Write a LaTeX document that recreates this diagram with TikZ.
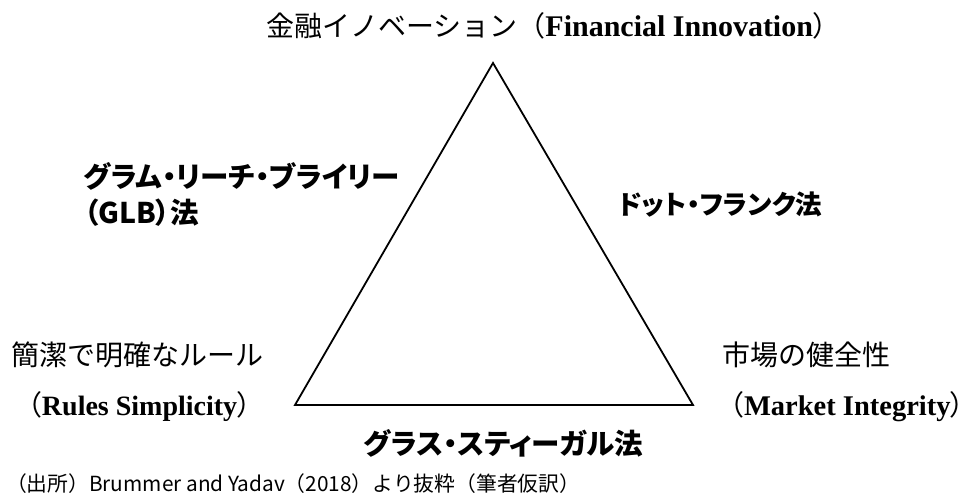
\documentclass[tikz,border=0pt]{standalone}
\usepackage{fontspec}
\setmainfont{Noto Sans CJK JP}
\newfontfamily\jpfont{Noto Sans CJK JP}
\newfontfamily\jpgfont[RawFeature=+palt]{Noto Sans CJK JP}
\newfontfamily\serbfont{Liberation Serif}
\begin{document}
\begin{tikzpicture}[x=1pt,y=-1pt,
  every node/.style={inner sep=0pt,outer sep=0pt},
  mintxt/.style={font=\jpfont\fontsize{28}{34}\selectfont},
  gotbtxt/.style={font=\jpgfont\bfseries\fontsize{28.5}{34}\selectfont},
  notetxt/.style={font=\jpfont\fontsize{20.8}{24}\selectfont},
  tri/.style={line width=1.8pt,line join=miter}]
\useasboundingbox (0,0) rectangle (980,500);
\coordinate (A) at (493,63);
\coordinate (B) at (295,405);
\coordinate (C) at (693,405);
\draw[tri] (A) -- (B) -- (C) -- cycle;
\newcommand{\latb}[2][29]{{\serbfont\bfseries\fontsize{#1}{34}\selectfont #2}}
\newcommand{\rpar}{{\jpgfont ）}}
\node[mintxt,anchor=base west] (top) at (266,37) {金融イノベーション（\latb[30]{Financial Innovation}\rpar};
\node[gotbtxt,anchor=base west] (glb1) at (84,187) {グラム・リーチ・ブライリー};
\node[gotbtxt,anchor=base west] (glb2) at (84,223) {（GLB）法};
\node[gotbtxt,anchor=base west,font=\jpgfont\bfseries\fontsize{26.5}{32}\selectfont] (dodd) at (619,214) {ドット・フランク法};
\node[gotbtxt,anchor=base west] (glass) at (364,454) {グラス・スティーガル法};
\node[mintxt,anchor=base west] (rules1) at (12,365) {簡潔で明確なルール};
\node[mintxt,anchor=base west] (rules2) at (14,415) {（\latb[28]{Rules Simplicity}\rpar};
\node[mintxt,anchor=base west] (mkt1) at (722,365) {市場の健全性};
\node[mintxt,anchor=base west] (mkt2) at (716,415) {（\latb[28.5]{Market Integrity}\rpar};
\node[notetxt,anchor=base west] (note) at (6,491) {（出所）Brummer and Yadav（2018）より抜粋（筆者仮訳）};
\end{tikzpicture}
\end{document}
